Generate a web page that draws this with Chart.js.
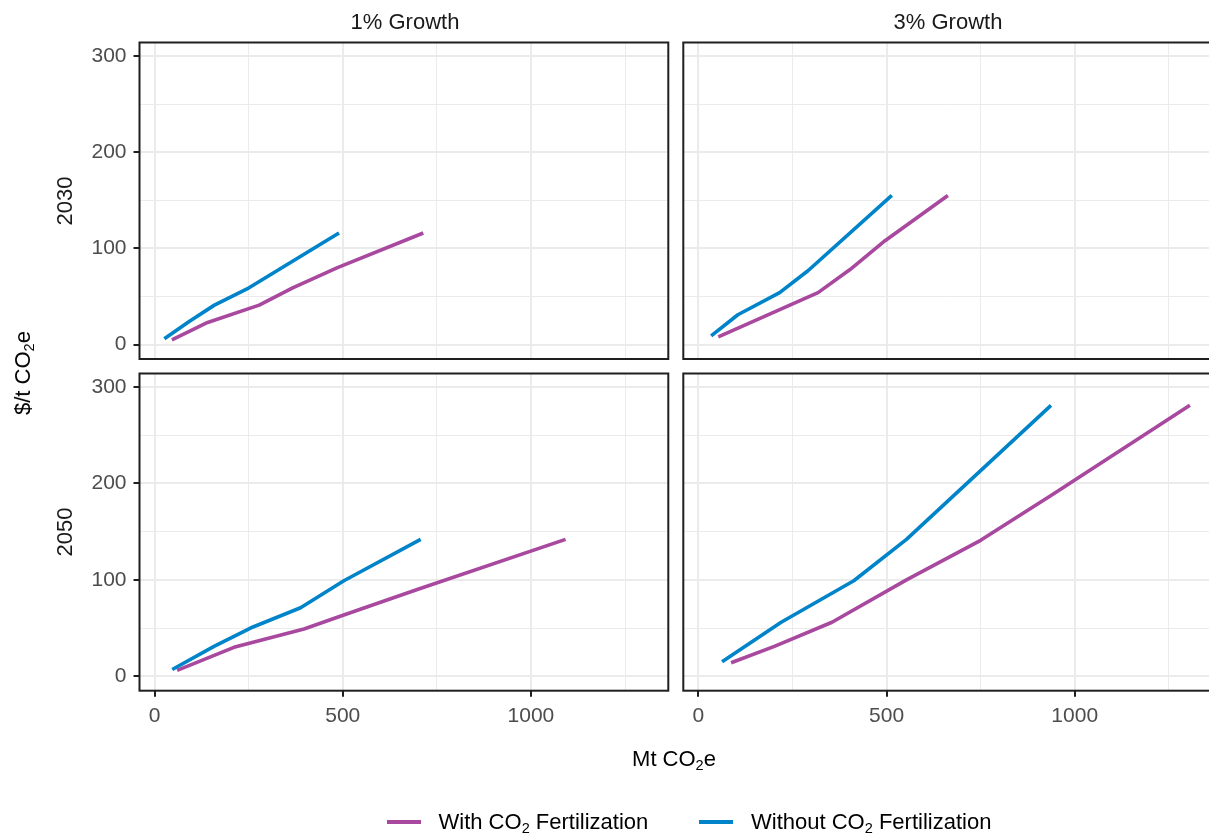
<!DOCTYPE html>
<html>
<head>
<meta charset="utf-8">
<script src="https://cdn.jsdelivr.net/npm/chart.js@4.4.1/dist/chart.umd.min.js"></script>
<style>
html, body { margin: 0; padding: 0; background: #ffffff; overflow: hidden; }
#wrap { position: relative; width: 1209px; height: 835px; overflow: hidden; background: #ffffff;
        font-family: "Liberation Sans", Arial, Helvetica, sans-serif; }
#wrap canvas { position: absolute; left: 0; top: 0; }
.t { position: absolute; white-space: nowrap; font-size: 22px; line-height: 22px; }
.t sub { font-size: 0.66em; vertical-align: -0.3em; line-height: 0; }
.sw { position: absolute; height: 4px; }
</style>
</head>
<body>
<div id="wrap">
  <canvas id="c00" width="1220" height="835" style="width:1220px;height:835px"></canvas>
  <canvas id="c01" width="1220" height="835" style="width:1220px;height:835px"></canvas>
  <canvas id="c10" width="1220" height="835" style="width:1220px;height:835px"></canvas>
  <canvas id="c11" width="1220" height="835" style="width:1220px;height:835px"></canvas>

  <div class="t" id="strip0" style="left:405px;top:10.7px;transform:translateX(-50%);color:#1a1a1a">1% Growth</div>
  <div class="t" id="strip1" style="left:948px;top:10.7px;transform:translateX(-50%);color:#1a1a1a">3% Growth</div>
  <div class="t" id="row0" style="left:65px;top:200.7px;transform:translate(-50%,-50%) rotate(-90deg);color:#1a1a1a">2030</div>
  <div class="t" id="row1" style="left:65px;top:532px;transform:translate(-50%,-50%) rotate(-90deg);color:#1a1a1a">2050</div>
  <div class="t" id="ytitle" style="left:23px;top:372.5px;transform:translate(-50%,-50%) rotate(-90deg);color:#000">$/t CO<sub>2</sub>e</div>
  <div class="t" id="xtitle" style="left:674px;top:747.5px;transform:translateX(-50%);color:#000">Mt CO<sub>2</sub>e</div>

  <div class="sw" id="sw0" style="left:387px;top:820px;width:34px;"></div>
  <div class="t" id="lg0" style="left:438.5px;top:811px;color:#000">With CO<sub>2</sub> Fertilization</div>
  <div class="sw" id="sw1" style="left:699px;top:820px;width:34px;"></div>
  <div class="t" id="lg1" style="left:751px;top:811px;color:#000">Without CO<sub>2</sub> Fertilization</div>
</div>

<script>
// ---------------- data ----------------
const growthLabels = ['1% Growth', '3% Growth'];
const yearLabels = ['2030', '2050'];
const seriesNames = ['With CO2 Fertilization', 'Without CO2 Fertilization'];

const xTicks = [0, 250, 500, 750, 1000, 1250];
const xTickLabels = [0, 500, 1000];
const yTicks = [0, 50, 100, 150, 200, 250, 300];
const yTickLabels = [0, 100, 200, 300];

// 1% Growth, 2030
const g1y2030WithX    = [46, 141, 278, 367, 486, 714];
const g1y2030WithY    = [5, 23, 41, 59, 80, 116];
const g1y2030WithoutX = [26, 92, 159, 251, 490];
const g1y2030WithoutY = [6, 24, 41, 59, 116];
// 3% Growth, 2030
const g3y2030WithX    = [53, 318, 403, 496, 663];
const g3y2030WithY    = [8, 54, 78, 108, 155];
const g3y2030WithoutX = [34, 105, 216, 292, 514];
const g3y2030WithoutY = [9, 31, 54, 77, 155];
// 1% Growth, 2050
const g1y2050WithX    = [60, 211, 397, 499, 698, 1092];
const g1y2050WithY    = [6, 30, 49, 63, 90, 142];
const g1y2050WithoutX = [47, 158, 255, 388, 503, 707];
const g1y2050WithoutY = [7, 31, 50, 71, 99, 142];
// 3% Growth, 2050
const g3y2050WithX    = [87, 202, 355, 553, 750, 939, 1306];
const g3y2050WithY    = [14, 31, 56, 100, 141, 188, 281];
const g3y2050WithoutX = [63, 220, 413, 553, 937];
const g3y2050WithoutY = [15, 56, 99, 142, 281];

// ---------------- style / layout ----------------
const PURPLE = '#a8489e';
const BLUE = '#0084c9';
const GRID = '#ebebeb';
const FRAME = '#1f1f1f';
const TICKTXT = '#4d4d4d';
const FONT = '"Liberation Sans", Arial, Helvetica, sans-serif';

const CW = 1220, CH = 835;
const xRange = [-40, 1365];
const yRange = [-15, 314];
const colLeft = [139.5, 683.3], colRight = [668.3, 1212.1];
const rowTop = [42.5, 373.5], rowBottom = [359, 690.7];
const X_AXIS_H = 40;

document.getElementById('sw0').style.background = PURPLE;
document.getElementById('sw1').style.background = BLUE;

const framePlugin = {
  id: 'frame',
  afterDatasetsDraw(chart) {
    const a = chart.chartArea, ctx = chart.ctx;
    ctx.save();
    ctx.strokeStyle = FRAME;
    ctx.lineWidth = 2;
    ctx.strokeRect(a.left, a.top, a.right - a.left, a.bottom - a.top);
    ctx.restore();
  }
};

function pts(xs, ys) { return xs.map((x, i) => ({ x: x, y: ys[i] })); }

function zeroPad(s) { s.paddingLeft = 0; s.paddingRight = 0; s.paddingTop = 0; s.paddingBottom = 0; }

function makePanel(id, r, c, withX, withY, woX, woY) {
  const showX = r === 1, showY = c === 0;
  const left = colLeft[c], right = colRight[c], top = rowTop[r], bottom = rowBottom[r];
  const majorX = v => xTickLabels.includes(v);
  const majorY = v => yTickLabels.includes(v);
  new Chart(document.getElementById(id), {
    type: 'line',
    data: {
      datasets: [
        { label: seriesNames[1], data: pts(woX, woY), borderColor: BLUE, borderWidth: 3.6,
          pointRadius: 0, fill: false, tension: 0, borderCapStyle: 'butt', borderJoinStyle: 'round' },
        { label: seriesNames[0], data: pts(withX, withY), borderColor: PURPLE, borderWidth: 3.6,
          pointRadius: 0, fill: false, tension: 0, borderCapStyle: 'butt', borderJoinStyle: 'round' }
      ]
    },
    options: {
      responsive: false, animation: false, devicePixelRatio: 1,
      events: [],
      layout: { autoPadding: false,
        padding: { left: 0, top: top, right: CW - right, bottom: CH - bottom - X_AXIS_H } },
      plugins: { legend: { display: false }, tooltip: { enabled: false }, title: { display: false } },
      scales: {
        x: {
          type: 'linear', position: 'bottom', min: xRange[0], max: xRange[1],
          afterBuildTicks: s => { s.ticks = xTicks.map(v => ({ value: v })); },
          afterFit: s => { s.height = X_AXIS_H; zeroPad(s); },
          border: { display: false },
          grid: {
            color: GRID,
            lineWidth: ctx => (ctx.tick && majorX(ctx.tick.value)) ? 2 : 1,
            drawTicks: showX, tickLength: 6, tickWidth: 2,
            tickColor: ctx => (ctx.tick && majorX(ctx.tick.value)) ? FRAME : 'rgba(0,0,0,0)'
          },
          ticks: {
            display: showX, autoSkip: false, maxRotation: 0, minRotation: 0, padding: 7,
            color: TICKTXT, font: { family: FONT, size: 21 },
            callback: v => majorX(v) ? String(v) : ''
          }
        },
        y: {
          type: 'linear', position: 'left', min: yRange[0], max: yRange[1],
          afterBuildTicks: s => { s.ticks = yTicks.map(v => ({ value: v })); },
          afterFit: s => { s.width = left; zeroPad(s); },
          border: { display: false },
          grid: {
            color: GRID,
            lineWidth: ctx => (ctx.tick && majorY(ctx.tick.value)) ? 2 : 1,
            drawTicks: showY, tickLength: 6, tickWidth: 2,
            tickColor: ctx => (ctx.tick && majorY(ctx.tick.value)) ? FRAME : 'rgba(0,0,0,0)'
          },
          ticks: {
            display: showY, autoSkip: false, padding: 7,
            color: TICKTXT, font: { family: FONT, size: 21 },
            callback: v => majorY(v) ? String(v) : ''
          }
        }
      }
    },
    plugins: [framePlugin]
  });
}

makePanel('c00', 0, 0, g1y2030WithX, g1y2030WithY, g1y2030WithoutX, g1y2030WithoutY);
makePanel('c01', 0, 1, g3y2030WithX, g3y2030WithY, g3y2030WithoutX, g3y2030WithoutY);
makePanel('c10', 1, 0, g1y2050WithX, g1y2050WithY, g1y2050WithoutX, g1y2050WithoutY);
makePanel('c11', 1, 1, g3y2050WithX, g3y2050WithY, g3y2050WithoutX, g3y2050WithoutY);
</script>
</body>
</html>
